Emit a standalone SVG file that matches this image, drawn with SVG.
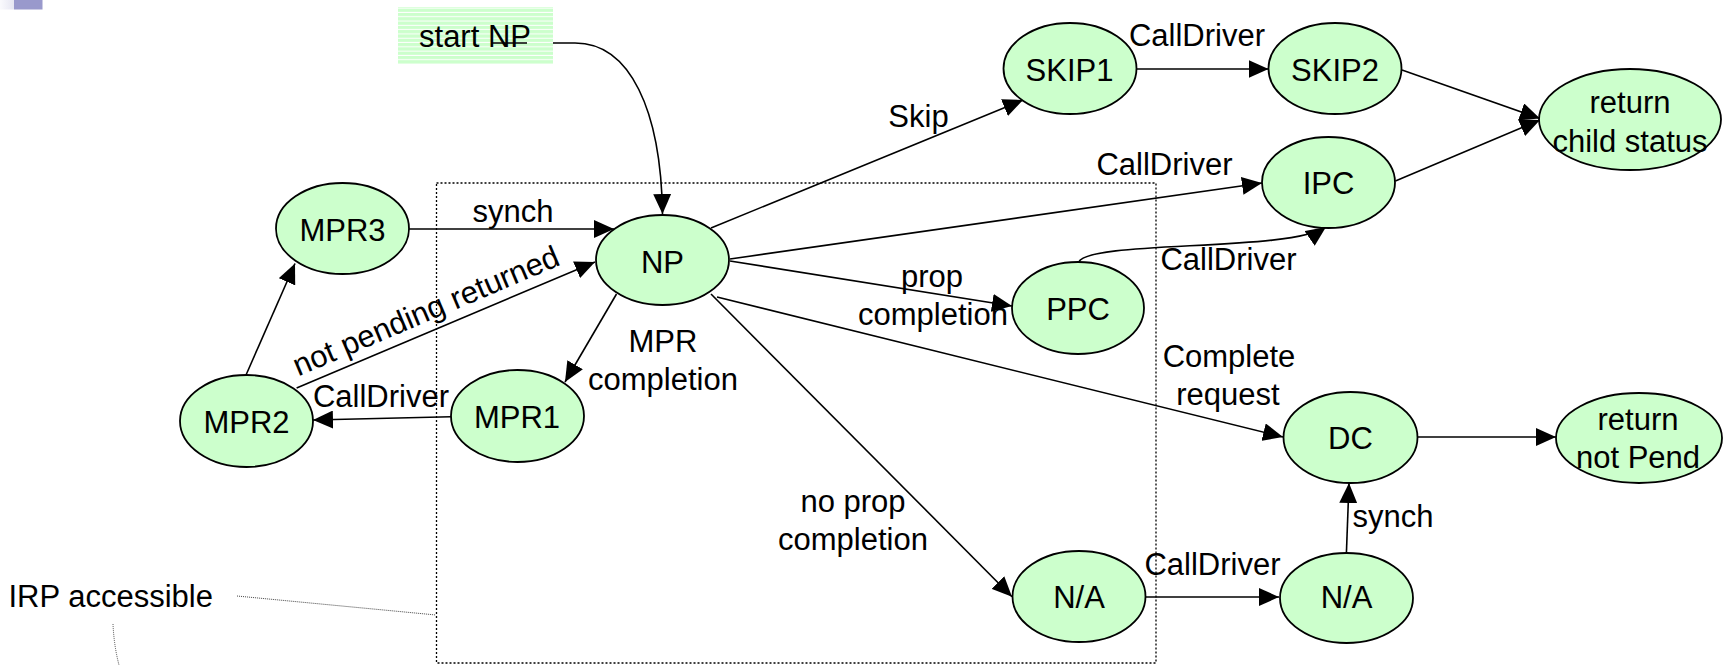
<svg xmlns="http://www.w3.org/2000/svg" width="1736" height="665" viewBox="0 0 1736 665">
  <style>
    text { font-family: "Liberation Sans", Arial, sans-serif; font-size: 31px; fill: #000; }
    .lbl { text-anchor: middle; }
    .node ellipse { fill: #ccffcc; stroke: #000; stroke-width: 1.8; }
    .node text { text-anchor: middle; }
    .edge { fill: none; stroke: #000; stroke-width: 1.6; marker-end: url(#arrow); }
    .plain { fill: none; stroke: #000; stroke-width: 1.6; }
    .dots { fill: none; stroke: #000; stroke-width: 1.3; stroke-dasharray: 2 2; }
    .lead { fill: none; stroke: #444; stroke-width: 1; stroke-dasharray: 1 1; }
  </style>
  <defs>
    <marker id="arrow" markerUnits="userSpaceOnUse" markerWidth="20" markerHeight="18" refX="20" refY="9" orient="auto">
      <path d="M0,0 L20,9 L0,18 Z" fill="#000"/>
    </marker>
    <pattern id="stripes" patternUnits="userSpaceOnUse" width="8" height="4.3">
      <rect width="8" height="4.3" fill="#ffffff"/>
      <rect width="8" height="3.3" fill="#ccffcc"/>
    </pattern>
    <linearGradient id="fade" x1="0" y1="0" x2="1" y2="0">
      <stop offset="0" stop-color="#fafafd"/>
      <stop offset="1" stop-color="#e6e6f2"/>
    </linearGradient>
  </defs>

  <!-- corner mark -->
  <rect x="0" y="0" width="14" height="9.5" fill="url(#fade)"/>
  <rect x="14" y="0" width="28.5" height="9.5" fill="#9999cc"/>

  <!-- IRP accessible region -->
  <rect class="dots" x="436.5" y="183" width="719.5" height="480"/>
  <text x="8.5" y="606.5">IRP accessible</text>
  <path class="lead" d="M237,596 L436,615"/>
  <path class="lead" d="M113,624 Q114,646 119,665"/>

  <!-- start marker -->
  <g id="start-np">
    <rect x="398" y="7" width="155" height="57" fill="url(#stripes)"/>
    <text class="lbl" x="475" y="46.5">start NP</text>
  </g>

  <!-- transitions -->
  <g id="connectors">
    <path class="plain" d="M492,43 H527"/>
    <path class="edge" d="M553,43 L575,43 C630,43 661,110 662.5,214"/>
    <path class="edge" d="M409,229 L614,229"/>
    <path class="edge" d="M296.6,388 L595,262"/>
    <path class="edge" d="M616.5,294 L565,382"/>
    <path class="edge" d="M451,416.7 L313,420"/>
    <path class="edge" d="M246,375 L295,263.5"/>
    <path class="edge" d="M711,228 L1023,100"/>
    <path class="edge" d="M1136.5,69 L1268.5,69"/>
    <path class="edge" d="M730,259 L1262,183"/>
    <path class="edge" d="M730,261 L1012,306"/>
    <path class="edge" d="M1078.6,262 C1090,240 1290,252 1326,227"/>
    <path class="edge" d="M1402,70 L1540,118.5"/>
    <path class="edge" d="M1395.4,181 L1540,120"/>
    <path class="edge" d="M717,297 L1283,437"/>
    <path class="edge" d="M1417.5,437 L1556,437"/>
    <path class="edge" d="M711,294 L1012,596.7"/>
    <path class="edge" d="M1145.5,597 L1279,597"/>
    <path class="edge" d="M1346.4,553 L1349,483"/>
  </g>

  <!-- transition labels -->
  <g id="edge-labels">
    <text class="lbl" x="513" y="222">synch</text>
    <text class="lbl" transform="translate(430,320.5) rotate(-23)">not pending returned</text>
    <text class="lbl" x="381" y="406.5">CallDriver</text>
    <text class="lbl" x="663" y="352">MPR</text>
    <text class="lbl" x="663" y="390">completion</text>
    <text class="lbl" x="918.5" y="127">Skip</text>
    <text class="lbl" x="1197" y="46">CallDriver</text>
    <text class="lbl" x="1164.5" y="175">CallDriver</text>
    <text class="lbl" x="932" y="287">prop</text>
    <text class="lbl" x="933" y="325">completion</text>
    <text class="lbl" x="1228.5" y="270">CallDriver</text>
    <text class="lbl" x="1229" y="366.5">Complete</text>
    <text class="lbl" x="1228" y="405">request</text>
    <text class="lbl" x="853" y="511.5">no prop</text>
    <text class="lbl" x="853" y="550">completion</text>
    <text class="lbl" x="1212.5" y="575">CallDriver</text>
    <text class="lbl" x="1393" y="526.5">synch</text>
  </g>

  <!-- states -->
  <g id="MPR3" class="node"><ellipse cx="342.5" cy="228.5" rx="66.5" ry="45.5"/><text x="342.5" y="240.5">MPR3</text></g>
  <g id="NP" class="node"><ellipse cx="662.5" cy="260" rx="66.5" ry="45"/><text x="662.5" y="272.5">NP</text></g>
  <g id="MPR2" class="node"><ellipse cx="246.5" cy="421" rx="66.5" ry="46"/><text x="246.5" y="432.5">MPR2</text></g>
  <g id="MPR1" class="node"><ellipse cx="517.5" cy="416" rx="66.5" ry="46"/><text x="517" y="428">MPR1</text></g>
  <g id="SKIP1" class="node"><ellipse cx="1070" cy="68.5" rx="66.5" ry="45.5"/><text x="1069.5" y="81">SKIP1</text></g>
  <g id="SKIP2" class="node"><ellipse cx="1335" cy="68.5" rx="66.5" ry="45.5"/><text x="1335" y="81">SKIP2</text></g>
  <g id="IPC" class="node"><ellipse cx="1328.5" cy="182.5" rx="66.5" ry="45.5"/><text x="1328.5" y="194">IPC</text></g>
  <g id="PPC" class="node"><ellipse cx="1078" cy="308" rx="66" ry="46"/><text x="1078" y="320">PPC</text></g>
  <g id="return-child-status" class="node"><ellipse cx="1630" cy="119.5" rx="91" ry="50.5"/><text x="1630" y="113">return</text><text x="1630" y="151.5">child status</text></g>
  <g id="DC" class="node"><ellipse cx="1350.5" cy="437.5" rx="67" ry="45.5"/><text x="1350.5" y="448.5">DC</text></g>
  <g id="return-not-pend" class="node"><ellipse cx="1639" cy="438" rx="83" ry="45"/><text x="1638" y="430">return</text><text x="1638" y="468">not Pend</text></g>
  <g id="NA1" class="node"><ellipse cx="1079" cy="596.5" rx="66.5" ry="45.5"/><text x="1079" y="608">N/A</text></g>
  <g id="NA2" class="node"><ellipse cx="1346.5" cy="598" rx="66.5" ry="45"/><text x="1346.5" y="607.5">N/A</text></g>
</svg>
